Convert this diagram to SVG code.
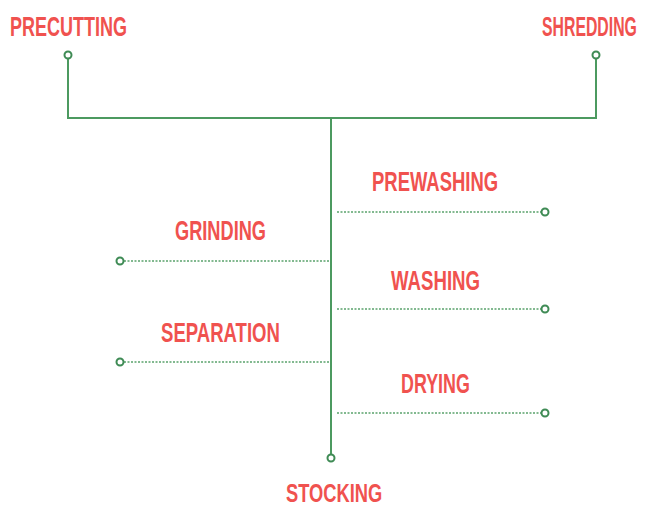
<svg xmlns="http://www.w3.org/2000/svg" width="651" height="507" viewBox="0 0 651 507">
<style>
.lbl{font-family:"Liberation Sans",Arial,sans-serif;font-weight:bold;font-size:27px;fill:#f0524f;}
.main{stroke:#4c9a60;stroke-width:2;fill:none;}
.dot{stroke:#5aa36c;stroke-width:1.5;stroke-dasharray:2 1.5;fill:none;}
.node{stroke:#3f8b55;stroke-width:2;fill:#ffffff;}
</style>
<rect width="651" height="507" fill="#ffffff"/>
<g id="connectors">
<path class="main" d="M68 58 V118 H596 V58"/>
<path class="main" d="M331 118 V455"/>
<line class="dot" x1="337" y1="212" x2="541" y2="212"/>
<line class="dot" x1="124" y1="261" x2="329" y2="261"/>
<line class="dot" x1="337" y1="309" x2="541" y2="309"/>
<line class="dot" x1="124" y1="362" x2="329" y2="362"/>
<line class="dot" x1="337" y1="413" x2="541" y2="413"/>
</g>
<g id="precutting"><text class="lbl" transform="translate(10 35.5) scale(0.65 1)" textLength="180" lengthAdjust="spacingAndGlyphs">PRECUTTING</text><circle class="node" cx="68" cy="55" r="3.5"/></g>
<g id="shredding"><text class="lbl" transform="translate(542 35.5) scale(0.65 1)" textLength="146" lengthAdjust="spacingAndGlyphs">SHREDDING</text><circle class="node" cx="596" cy="55" r="3.5"/></g>
<g id="prewashing"><text class="lbl" transform="translate(372 190.5) scale(0.65 1)" textLength="194" lengthAdjust="spacingAndGlyphs">PREWASHING</text><circle class="node" cx="545" cy="212" r="3.5"/></g>
<g id="grinding"><text class="lbl" transform="translate(175 239.5) scale(0.65 1)" textLength="140" lengthAdjust="spacingAndGlyphs">GRINDING</text><circle class="node" cx="120" cy="261" r="3.5"/></g>
<g id="washing"><text class="lbl" transform="translate(391 289.5) scale(0.65 1)" textLength="137" lengthAdjust="spacingAndGlyphs">WASHING</text><circle class="node" cx="545" cy="309" r="3.5"/></g>
<g id="separation"><text class="lbl" transform="translate(161 341.5) scale(0.65 1)" textLength="183" lengthAdjust="spacingAndGlyphs">SEPARATION</text><circle class="node" cx="120" cy="362" r="3.5"/></g>
<g id="drying"><text class="lbl" transform="translate(401 392.5) scale(0.65 1)" textLength="106" lengthAdjust="spacingAndGlyphs">DRYING</text><circle class="node" cx="545" cy="413" r="3.5"/></g>
<g id="stocking"><text class="lbl" style="font-size:26px" transform="translate(286 501.5) scale(0.65 1)" textLength="148" lengthAdjust="spacingAndGlyphs">STOCKING</text><circle class="node" cx="331" cy="458" r="3.5"/></g>
</svg>
